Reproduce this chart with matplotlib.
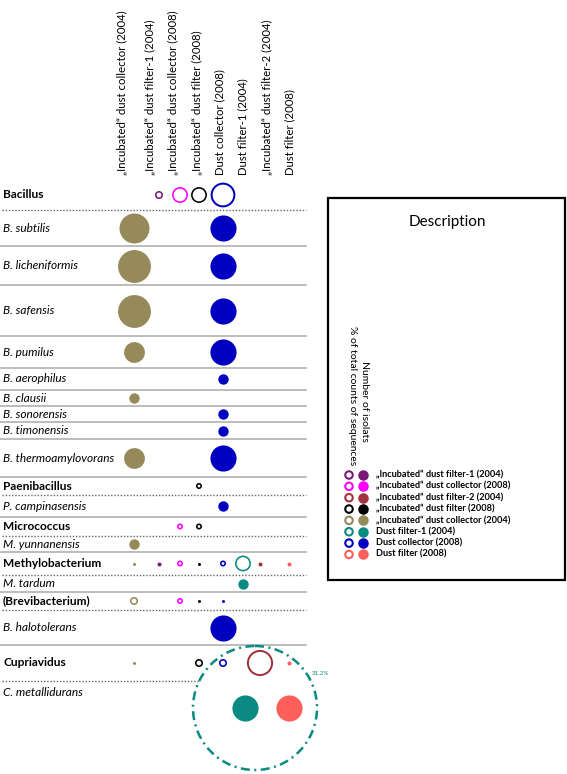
import matplotlib.pyplot as plt
from matplotlib.patches import Circle, Rectangle
import numpy as np

plt.rcParams['font.family'] = ['Lato', 'DejaVu Sans']

# sample columns (header order) and their colours
columns = ["\u201eIncubated\u201c dust collector (2004)",
           "\u201eIncubated\u201c dust filter-1 (2004)",
           "\u201eIncubated\u201c dust collector (2008)",
           "\u201eIncubated\u201c dust filter (2008)",
           "Dust collector (2008)",
           "Dust filter-1 (2004)",
           "\u201eIncubated\u201c dust filter-2 (2004)",
           "Dust filter (2008)"]
col_colors = ["#968a5a", "#7a1a78", "#ff00ff", "#000000",
              "#0000c0", "#0a8a80", "#a3333d", "#ff5f5a"]
legend_order = [1, 2, 6, 3, 0, 5, 4, 7]

rows = ["Bacillus", "B. subtilis", "B. licheniformis", "B. safensis", "B. pumilus",
        "B. aerophilus", "B. clausii", "B. sonorensis", "B. timonensis",
        "B. thermoamylovorans", "Paenibacillus", "P. campinasensis", "Micrococcus",
        "M. yunnanensis", "Methylobacterium", "M. tardum", "(Brevibacterium)",
        "B. halotolerans", "Cupriavidus", "C. metallidurans"]
genera = ["Bacillus", "Paenibacillus", "Micrococcus", "Methylobacterium",
          "(Brevibacterium)", "Cupriavidus"]

# (row, column, size value, open ring = % of sequences / filled = isolates)
bubbles = [
    ("Bacillus", 1, 1.8, True), ("Bacillus", 2, 7, True), ("Bacillus", 3, 7, True),
    ("Bacillus", 4, 17, True),
    ("B. subtilis", 0, 25, False), ("B. subtilis", 4, 19, False),
    ("B. licheniformis", 0, 30, False), ("B. licheniformis", 4, 19, False),
    ("B. safensis", 0, 30, False), ("B. safensis", 4, 19, False),
    ("B. pumilus", 0, 12, False), ("B. pumilus", 4, 19, False),
    ("B. aerophilus", 4, 3, False),
    ("B. clausii", 0, 3, False),
    ("B. sonorensis", 4, 3, False),
    ("B. timonensis", 4, 3, False),
    ("B. thermoamylovorans", 0, 12, False), ("B. thermoamylovorans", 4, 19, False),
    ("Paenibacillus", 3, 1, True),
    ("P. campinasensis", 4, 3, False),
    ("Micrococcus", 2, 1, True), ("Micrococcus", 3, 1, True),
    ("M. yunnanensis", 0, 3, False),
    ("Methylobacterium", 0, 0.25, False), ("Methylobacterium", 1, 0.45, False),
    ("Methylobacterium", 2, 1, True), ("Methylobacterium", 3, 0.25, False),
    ("Methylobacterium", 4, 1, True), ("Methylobacterium", 5, 7, True),
    ("Methylobacterium", 6, 0.45, False), ("Methylobacterium", 7, 0.45, False),
    ("M. tardum", 5, 3, False),
    ("(Brevibacterium)", 0, 1.8, True), ("(Brevibacterium)", 2, 1, True),
    ("(Brevibacterium)", 3, 0.25, False), ("(Brevibacterium)", 4, 0.25, False),
    ("B. halotolerans", 4, 19, False),
    ("Cupriavidus", 0, 0.25, False), ("Cupriavidus", 3, 1.8, True),
    ("Cupriavidus", 4, 1.8, True), ("Cupriavidus", 6, 19, True),
    ("Cupriavidus", 7, 0.45, False),
    ("C. metallidurans", 5, 19, False), ("C. metallidurans", 7, 19, False),
]
cupriavidus_pct = 31.2  # Dust filter-1 (2004), % of sequences

# layout (figure pixels)
col_x = [134, 159, 180, 199, 223, 243, 260, 289]
header_x = [122, 150, 173, 197, 220, 243, 267, 290]
row_heights = [30, 36, 39, 51, 32, 22, 16, 16, 17, 38, 18, 22, 19, 16, 23, 17, 18, 35, 36, 54]
top = 180

W, H = 567, 774
fig = plt.figure(figsize=(W / 100, H / 100), dpi=100)
ax = fig.add_axes([0, 0, 1, 1])
ax.set_xlim(0, W)
ax.set_ylim(H, 0)
ax.axis('off')

edges = top + np.concatenate([[0], np.cumsum(row_heights)])
row_y = {}
for i, name in enumerate(rows):
    y0, y1 = edges[i], edges[i + 1]
    yc = (y0 + y1) / 2
    row_y[name] = yc
    ly = y0 + 12 if i == len(rows) - 1 else yc
    if name in genera:
        ax.text(3, ly, name, fontsize=8.6, fontweight='bold', va='center')
    else:
        ax.text(3, ly, name, fontsize=8.6, style='italic', va='center')
    if i < len(rows) - 1:
        if name in genera:
            ax.plot([2, 306], [y1, y1], color='#666666', lw=1, ls=(0, (1, 1.3)), zorder=1)
        else:
            ax.plot([0, 306], [y1, y1], color='#b0b0b0', lw=1.2, zorder=1)

for x, name in zip(header_x, columns):
    ax.text(x, 175, name, rotation=90, fontsize=8.2, ha='center', va='bottom')


def scatter_bubble(x, y, v, ring, color, z=3):
    r = 3 * np.sqrt(v)
    if ring:
        lw = 2.0 if r > 10 else 1.6
        d = max(2 * r - lw, 1)
        ax.scatter(x, y, s=(d * 0.72) ** 2, facecolor='none', edgecolor=color,
                   linewidth=lw * 0.72, zorder=z)
    else:
        ax.scatter(x, y, s=(2 * r * 0.72) ** 2, color=color, linewidth=0, zorder=z)


# big dashed circle for Cupriavidus sequences share
cr = 11.1 * np.sqrt(cupriavidus_pct)
cy = row_y["Cupriavidus"] + 45
cx = col_x[5] + 12
ax.add_patch(Circle((cx, cy), cr, facecolor='white', edgecolor=col_colors[5],
                    lw=1.8, ls=(0, (3.6, 1.8, 0.8, 1.8)), zorder=2))
ax.text(cx + cr * 0.92, cy - cr * 0.55, f"{cupriavidus_pct}%", fontsize=4.5,
        color=col_colors[5], ha='left', va='center', zorder=4)

for name, c, v, ring in bubbles:
    x = col_x[c]
    if name == "C. metallidurans" and c == 5:
        x += 2
    scatter_bubble(x, row_y[name], v, ring, col_colors[c])

# description box
ax.add_patch(Rectangle((328, 198), 237, 382, facecolor='white', edgecolor='black',
                       lw=1.6, zorder=1))
ax.text(447, 222, "Description", fontsize=11, ha='center', va='center')
ax.text(352, 396, "% of total counts of sequences", rotation=270, fontsize=7.5,
        ha='center', va='center')
ax.text(365, 401, "Number of isolats", rotation=270, fontsize=7.5,
        ha='center', va='center')
for k, c in enumerate(legend_order):
    y = 475 + k * 11.35
    ax.scatter(349, y, s=(7.5 * 0.72) ** 2, facecolor='none', edgecolor=col_colors[c],
               linewidth=1.5, zorder=3)
    ax.scatter(363, y, s=(10.5 * 0.72) ** 2, color=col_colors[c], linewidth=0, zorder=3)
    ax.text(376, y, columns[c], fontsize=6.6, fontweight='bold', va='center')

fig.savefig("out.png", dpi=100)
